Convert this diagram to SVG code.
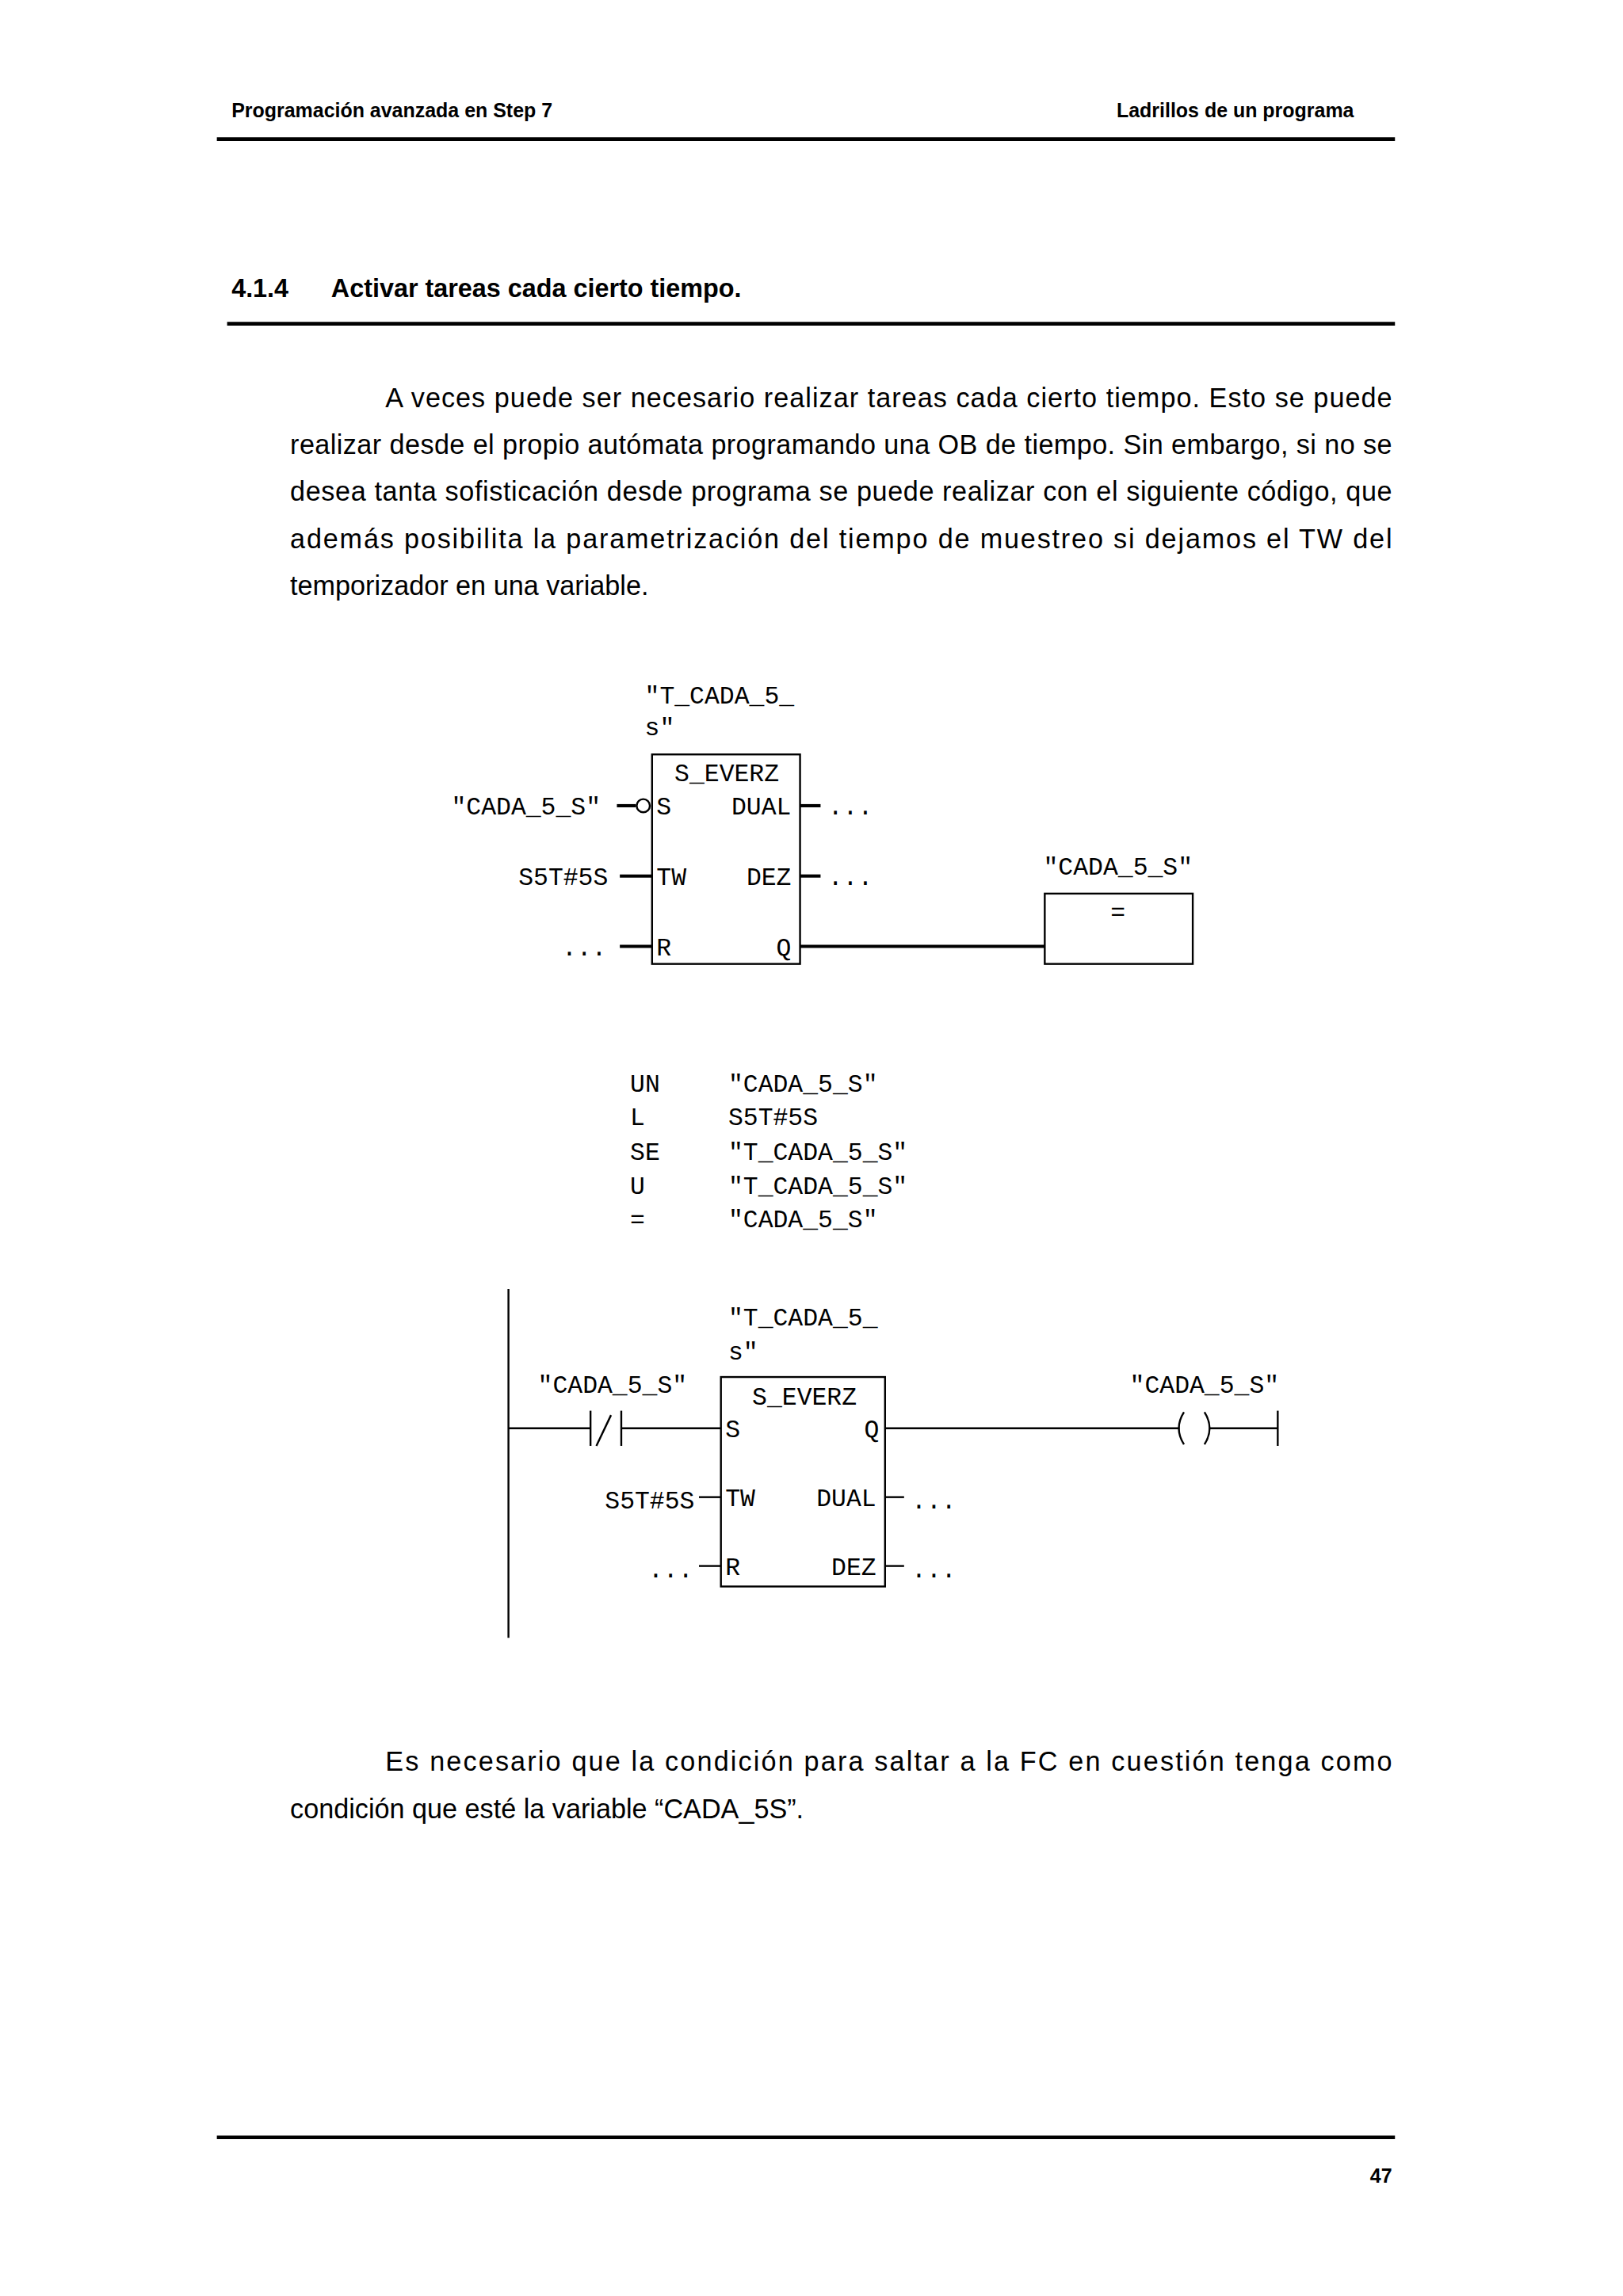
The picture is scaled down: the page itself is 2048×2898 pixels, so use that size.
<svg xmlns="http://www.w3.org/2000/svg" width="2048" height="2898" viewBox="0 0 2048 2898">
<style>
.h{font-family:"Liberation Sans",Arial,sans-serif;font-weight:bold;font-size:13.5px}
.t{font-family:"Liberation Sans",Arial,sans-serif;font-size:18.5px}
.hd{font-family:"Liberation Sans",Arial,sans-serif;font-weight:bold;font-size:17.5px}
.m{font-family:"Liberation Mono","Courier New",monospace;font-size:17px}
.ln{stroke:#000;stroke-width:1.3;fill:none}
.w{stroke:#000;stroke-width:2.2;fill:none}
</style>
<rect width="2048" height="2898" fill="#fff"/>
<g transform="scale(1.849)">
<g id="page">
<text class="h" x="158" y="80">Programación avanzada en Step 7</text>
<text class="h" x="924" y="80" text-anchor="end">Ladrillos de un programa</text>
<line x1="148" y1="95" x2="952" y2="95" stroke="#000" stroke-width="2.5"/>
<text class="hd" x="158" y="203">4.1.4</text>
<text class="hd" x="226" y="203">Activar tareas cada cierto tiempo.</text>
<line x1="155" y1="221" x2="952" y2="221" stroke="#000" stroke-width="2.5"/>
<text class="t" x="263" y="278" textLength="687" lengthAdjust="spacing">A veces puede ser necesario realizar tareas cada cierto tiempo. Esto se puede</text>
<text class="t" x="198" y="310" textLength="752" lengthAdjust="spacing">realizar desde el propio autómata programando una OB de tiempo. Sin embargo, si no se</text>
<text class="t" x="198" y="342" textLength="752" lengthAdjust="spacing">desea tanta sofisticación desde programa se puede realizar con el siguiente código, que</text>
<text class="t" x="198" y="374" textLength="752" lengthAdjust="spacing">además posibilita la parametrización del tiempo de muestreo si dejamos el TW del</text>
<text class="t" x="198" y="406">temporizador en una variable.</text>
<text class="t" x="263" y="1209" textLength="687" lengthAdjust="spacing">Es necesario que la condición para saltar a la FC en cuestión tenga como</text>
<text class="t" x="198" y="1241">condición que esté la variable “CADA_5S”.</text>
<line x1="148" y1="1459" x2="952" y2="1459" stroke="#000" stroke-width="2.5"/>
<text class="h" x="950" y="1490" text-anchor="end">47</text>
</g>
<g id="fbd">
<text class="m" x="440" y="480">"T_CADA_5_</text>
<text class="m" x="440" y="502">s"</text>
<rect x="445" y="515" width="101" height="143" class="ln"/>
<text class="m" x="496" y="533" text-anchor="middle">S_EVERZ</text>
<text class="m" x="448" y="556">S</text>
<text class="m" x="540" y="556" text-anchor="end">DUAL</text>
<text class="m" x="448" y="604">TW</text>
<text class="m" x="540" y="604" text-anchor="end">DEZ</text>
<text class="m" x="448" y="652">R</text>
<text class="m" x="540" y="652" text-anchor="end">Q</text>
<text class="m" x="308" y="556">"CADA_5_S"</text>
<circle cx="439" cy="550" r="4.5" class="ln"/>
<text class="m" x="415" y="604" text-anchor="end">S5T#5S</text>
<text class="m" x="414" y="652" text-anchor="end">...</text>
<text class="m" x="565" y="556">...</text>
<text class="m" x="565" y="604">...</text>
<rect x="713" y="610" width="101" height="48" class="ln"/>
<text class="m" x="763" y="628" text-anchor="middle">=</text>
<text class="m" x="763" y="597" text-anchor="middle">"CADA_5_S"</text>
</g>
<g id="stl">
<text class="m" x="430" y="745">UN</text><text class="m" x="497" y="745">"CADA_5_S"</text>
<text class="m" x="430" y="768">L</text><text class="m" x="497" y="768">S5T#5S</text>
<text class="m" x="430" y="792">SE</text><text class="m" x="497" y="792">"T_CADA_5_S"</text>
<text class="m" x="430" y="815">U</text><text class="m" x="497" y="815">"T_CADA_5_S"</text>
<text class="m" x="430" y="838">=</text><text class="m" x="497" y="838">"CADA_5_S"</text>
</g>
<g id="lad">
<line x1="347" y1="880" x2="347" y2="1118" class="ln"/>
<text class="m" x="418" y="951" text-anchor="middle">"CADA_5_S"</text>
<line x1="403" y1="963" x2="403" y2="987" class="ln"/>
<line x1="424" y1="963" x2="424" y2="987" class="ln"/>
<line x1="407" y1="987" x2="417" y2="966" class="ln"/>
<text class="m" x="497" y="905">"T_CADA_5_</text>
<text class="m" x="497" y="928">s"</text>
<rect x="492" y="940" width="112" height="143" class="ln"/>
<text class="m" x="549" y="959" text-anchor="middle">S_EVERZ</text>
<text class="m" x="495" y="981">S</text>
<text class="m" x="600" y="981" text-anchor="end">Q</text>
<text class="m" x="495" y="1028">TW</text>
<text class="m" x="598" y="1028" text-anchor="end">DUAL</text>
<text class="m" x="495" y="1075">R</text>
<text class="m" x="598" y="1075" text-anchor="end">DEZ</text>
<text class="m" x="474" y="1030" text-anchor="end">S5T#5S</text>
<text class="m" x="473" y="1077" text-anchor="end">...</text>
<text class="m" x="622" y="1030">...</text>
<text class="m" x="622" y="1077">...</text>
<path d="M808,964 Q801,975 808,986 M822,964 Q829,975 822,986" class="ln"/>
<line x1="872" y1="963" x2="872" y2="987" class="ln"/>
<text class="m" x="822" y="951" text-anchor="middle">"CADA_5_S"</text>
</g>
<g id="connectors">
<line x1="421" y1="550" x2="434" y2="550" class="w"/>
<line x1="423" y1="598" x2="445" y2="598" class="w"/>
<line x1="423" y1="646" x2="445" y2="646" class="w"/>
<line x1="546" y1="550" x2="560" y2="550" class="w"/>
<line x1="546" y1="598" x2="560" y2="598" class="w"/>
<line x1="546" y1="646" x2="713" y2="646" class="w"/>
<line x1="347" y1="975" x2="403" y2="975" class="ln"/>
<line x1="424" y1="975" x2="492" y2="975" class="ln"/>
<line x1="477" y1="1022" x2="492" y2="1022" class="ln"/>
<line x1="477" y1="1069" x2="492" y2="1069" class="ln"/>
<line x1="604" y1="1022" x2="617" y2="1022" class="ln"/>
<line x1="604" y1="1069" x2="617" y2="1069" class="ln"/>
<line x1="604" y1="975" x2="805" y2="975" class="ln"/>
<line x1="825" y1="975" x2="872" y2="975" class="ln"/>
</g>
</g>
</svg>
